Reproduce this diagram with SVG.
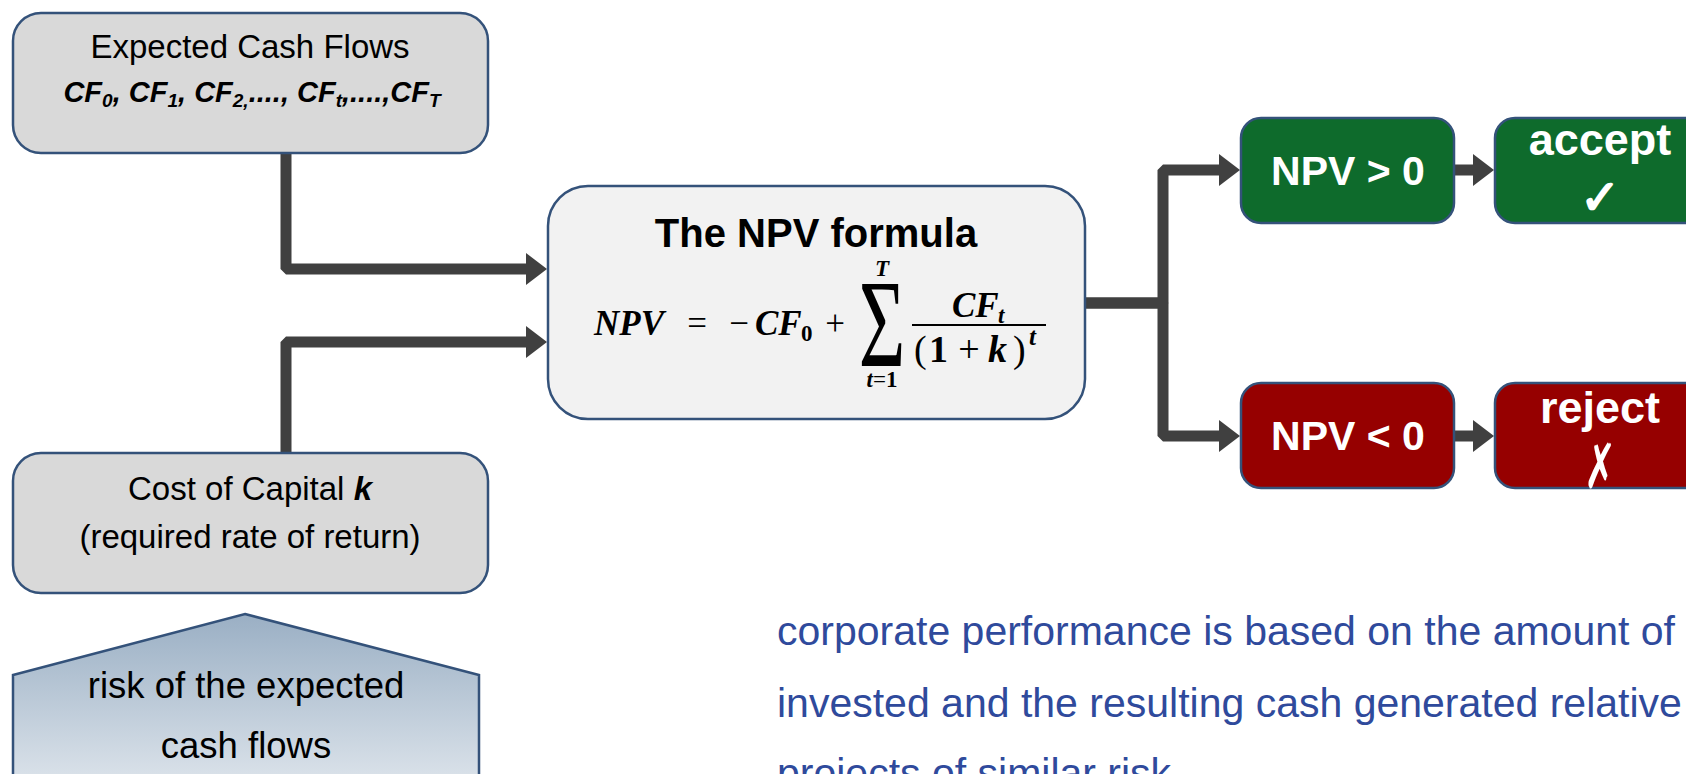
<svg xmlns="http://www.w3.org/2000/svg" width="1686" height="774" viewBox="0 0 1686 774">
  <defs>
    <style>
      .box { stroke: #34527a; stroke-width: 2.5; }
      .grey { fill: #d9d9d9; }
      .light { fill: #f2f2f2; }
      .green { fill: #0e6b2c; }
      .red { fill: #960000; }
      .sans { font-family: "Liberation Sans", Arial, sans-serif; }
      .lbl { font-size: 33px; fill: #000; text-anchor: middle; }
      .lbl.lg { font-size: 36.5px; }
      .cf { font-size: 29px; font-weight: bold; font-style: italic; fill: #000; text-anchor: middle; }
      .title { font-size: 40px; font-weight: bold; fill: #000; text-anchor: middle; }
      .math { font-family: "Liberation Serif", "Times New Roman", serif; fill: #000; }
      .mi { font-weight: bold; font-style: italic; }
      .mb { font-weight: bold; }
      .white { font-size: 41px; font-weight: bold; fill: #fff; text-anchor: middle; }
      .big { font-size: 45px; }
      .sym { font-family: "DejaVu Sans", sans-serif; fill: #fff; text-anchor: middle; }
      .note { font-size: 41px; fill: #2f4a9c; }
      .wire { fill: none; stroke: #404040; stroke-width: 11; stroke-linecap: round; stroke-linejoin: bevel; }
    </style>
    <marker id="head" viewBox="0 0 21 32" refX="6" refY="16" markerWidth="21" markerHeight="32" markerUnits="userSpaceOnUse" orient="auto">
      <path d="M0 0 L21 16 L0 32 Z" fill="#404040"/>
    </marker>
    <linearGradient id="riskFill" x1="0" y1="614" x2="0" y2="800" gradientUnits="userSpaceOnUse">
      <stop offset="0" stop-color="#9aafc4"/>
      <stop offset="1" stop-color="#e2e8ee"/>
    </linearGradient>
  </defs>

  <!-- connectors -->
  <g id="connectors">
    <path class="wire" d="M286 153 V269 H532" marker-end="url(#head)"/>
    <path class="wire" d="M286 453 V342 H532" marker-end="url(#head)"/>
    <path class="wire" d="M1085 303 H1163 V170 H1225" marker-end="url(#head)"/>
    <path class="wire" d="M1085 303 H1163 V436 H1225" marker-end="url(#head)"/>
    <path class="wire" d="M1454 170 H1479" marker-end="url(#head)"/>
    <path class="wire" d="M1454 436 H1479" marker-end="url(#head)"/>
  </g>

  <!-- expected cash flows -->
  <g id="cash-flows">
    <rect class="box grey" x="13" y="13" width="475" height="140" rx="28"/>
    <text class="sans lbl" x="250" y="58">Expected Cash Flows</text>
    <text class="sans cf" x="252" y="102">CF<tspan font-size="19" dy="5">0</tspan><tspan dy="-5">, CF</tspan><tspan font-size="19" dy="5">1</tspan><tspan dy="-5">, CF</tspan><tspan font-size="19" dy="5">2,</tspan><tspan dy="-5">...., CF</tspan><tspan font-size="19" dy="5">t</tspan><tspan dy="-5">,....,CF</tspan><tspan font-size="19" dy="5">T</tspan></text>
  </g>

  <!-- cost of capital -->
  <g id="cost-of-capital">
    <rect class="box grey" x="13" y="453" width="475" height="140" rx="28"/>
    <text class="sans lbl" x="250" y="500">Cost of Capital <tspan font-weight="bold" font-style="italic">k</tspan></text>
    <text class="sans lbl" x="250" y="548">(required rate of return)</text>
  </g>

  <!-- risk pentagon -->
  <g id="risk">
    <polygon class="box" fill="url(#riskFill)" points="245,614 479,675 479,800 13,800 13,675"/>
    <text class="sans lbl lg" x="246" y="698">risk of the expected</text>
    <text class="sans lbl lg" x="246" y="758">cash flows</text>
  </g>

  <!-- NPV formula -->
  <g id="npv-formula">
    <rect class="box light" x="548" y="186" width="537" height="233" rx="40"/>
    <text class="sans title" x="816" y="247">The NPV formula</text>
    <g class="math" font-size="35">
      <text class="mi" x="594" y="335">NPV</text>
      <text x="697" y="335" text-anchor="middle">=</text>
      <text x="739" y="335" text-anchor="middle">−</text>
      <text class="mi" x="755" y="335">CF</text>
      <text class="mb" x="801" y="341" font-size="23">0</text>
      <text x="835" y="335" text-anchor="middle">+</text>
      <text transform="translate(882,366) scale(1,1.55)" font-size="80" text-anchor="middle">Σ</text>
      <text class="mi" x="882" y="276" font-size="23" text-anchor="middle">T</text>
      <text x="882" y="387" font-size="23" text-anchor="middle"><tspan class="mi">t</tspan>=<tspan class="mb">1</tspan></text>
      <line x1="912" y1="325" x2="1046" y2="325" stroke="#000" stroke-width="2"/>
      <text class="mi" x="952" y="317">CF</text>
      <text class="mi" x="998" y="323" font-size="23">t</text>
      <g font-size="38">
        <text x="914" y="362">(</text>
        <text class="mb" x="929" y="362">1</text>
        <text x="969" y="362" text-anchor="middle">+</text>
        <text class="mi" x="988" y="362">k</text>
        <text x="1013" y="362">)</text>
        <text class="mi" x="1029" y="345" font-size="25">t</text>
      </g>
    </g>
  </g>

  <!-- decision outcomes -->
  <g id="npv-positive">
    <rect class="box green" x="1241" y="118" width="213" height="105" rx="20"/>
    <text class="sans white" x="1348" y="185">NPV &gt; 0</text>
  </g>
  <g id="accept">
    <rect class="box green" x="1495" y="118" width="213" height="105" rx="20"/>
    <text class="sans white big" x="1600" y="155">accept</text>
    <text class="sym" x="1600" y="214" font-size="48" stroke="#fff" stroke-width="1.8">✓</text>
  </g>
  <g id="npv-negative">
    <rect class="box red" x="1241" y="383" width="213" height="105" rx="20"/>
    <text class="sans white" x="1348" y="450">NPV &lt; 0</text>
  </g>
  <g id="reject">
    <rect class="box red" x="1495" y="383" width="213" height="105" rx="20"/>
    <text class="sans white big" x="1600" y="423">reject</text>
    <text class="sym" transform="translate(1600,488) scale(0.62,1)" font-size="62">✗</text>
  </g>

  <!-- note -->
  <g id="note">
    <text class="sans note" x="777" y="645">corporate performance is based on the amount of</text>
    <text class="sans note" x="777" y="717">invested and the resulting cash generated relative to</text>
    <text class="sans note" x="777" y="787">projects of similar risk</text>
  </g>
</svg>
